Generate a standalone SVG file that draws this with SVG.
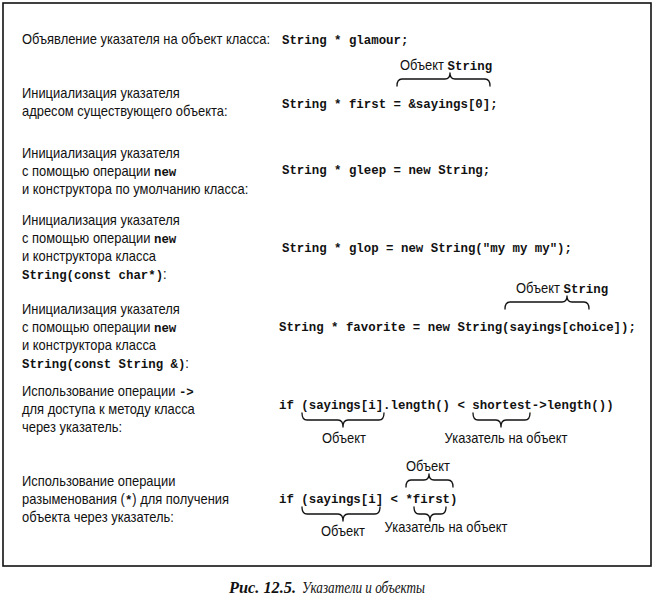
<svg xmlns="http://www.w3.org/2000/svg" width="654" height="602" viewBox="0 0 654 602">
  <style>
    .t { font-family: "Liberation Sans", Arial, sans-serif; font-size: 14.2px; fill: #111; }
    .c { font-family: "Liberation Mono", "Courier New", monospace; font-size: 12.4px; font-weight: bold; fill: #111; }
    .m { font-family: "Liberation Mono", "Courier New", monospace; font-weight: bold; font-size: 13.6px; }
    .lbl { font-family: "Liberation Sans", Arial, sans-serif; font-size: 14.2px; fill: #111; text-anchor: middle; }
    .brace { fill: none; stroke: #111; stroke-width: 1.3; stroke-linecap: round; stroke-linejoin: round; }
    .cap { font-family: "Liberation Serif", "Times New Roman", serif; font-size: 17px; font-style: italic; fill: #111; }
  </style>

  <!-- frame -->
  <rect x="3" y="3" width="648" height="563" fill="#fff" stroke="#111" stroke-width="1.6"/>

  <!-- declaration -->
  <g id="decl">
    <text class="t" transform="translate(22 44) scale(0.91 1)">Объявление указателя на объект класса:</text>
    <text class="c" x="282" y="44">String * glamour;</text>
  </g>

  <!-- pointer to an existing object -->
  <g id="init-address">
    <text class="t" transform="translate(22 98) scale(0.91 1)">Инициализация указателя</text>
    <text class="t" transform="translate(22 116) scale(0.91 1)">адресом существующего объекта:</text>
    <text class="c" x="282" y="108">String * first = &amp;sayings[0];</text>
    <text class="t" transform="translate(400 70) scale(0.91 1)">Объект <tspan class="m">String</tspan></text>
  </g>

  <!-- new with default constructor -->
  <g id="init-default">
    <text class="t" transform="translate(22 158) scale(0.91 1)">Инициализация указателя</text>
    <text class="t" transform="translate(22 176) scale(0.91 1)">с помощью операции <tspan class="m">new</tspan></text>
    <text class="t" transform="translate(22 194) scale(0.91 1)">и конструктора по умолчанию класса:</text>
    <text class="c" x="282" y="174">String * gleep = new String;</text>
  </g>

  <!-- new with String(const char*) -->
  <g id="init-charptr">
    <text class="t" transform="translate(22 225) scale(0.91 1)">Инициализация указателя</text>
    <text class="t" transform="translate(22 243) scale(0.91 1)">с помощью операции <tspan class="m">new</tspan></text>
    <text class="t" transform="translate(22 261) scale(0.91 1)">и конструктора класса</text>
    <text class="t" transform="translate(22 279) scale(0.91 1)"><tspan class="m">String(const char*)</tspan>:</text>
    <text class="c" x="282" y="252">String * glop = new String("my my my");</text>
  </g>

  <!-- new with copy constructor -->
  <g id="init-copy">
    <text class="t" transform="translate(22 314) scale(0.91 1)">Инициализация указателя</text>
    <text class="t" transform="translate(22 332) scale(0.91 1)">с помощью операции <tspan class="m">new</tspan></text>
    <text class="t" transform="translate(22 350) scale(0.91 1)">и конструктора класса</text>
    <text class="t" transform="translate(22 368) scale(0.91 1)"><tspan class="m">String(const String &amp;)</tspan>:</text>
    <text class="c" x="279" y="331">String * favorite = new String(sayings[choice]);</text>
    <text class="t" transform="translate(516 293) scale(0.91 1)">Объект <tspan class="m">String</tspan></text>
  </g>

  <!-- member access through pointer -->
  <g id="arrow-op">
    <text class="t" transform="translate(22 396) scale(0.91 1)">Использование операции <tspan class="m">-&gt;</tspan></text>
    <text class="t" transform="translate(22 414) scale(0.91 1)">для доступа к методу класса</text>
    <text class="t" transform="translate(22 432) scale(0.91 1)">через указатель:</text>
    <text class="c" x="279" y="409">if (sayings[i].length() &lt; shortest-&gt;length())</text>
    <text class="lbl" transform="translate(344 443) scale(0.91 1)">Объект</text>
    <text class="lbl" transform="translate(506 443) scale(0.91 1)">Указатель на объект</text>
  </g>

  <!-- dereference -->
  <g id="deref-op">
    <text class="t" transform="translate(22 486) scale(0.91 1)">Использование операции</text>
    <text class="t" transform="translate(22 504) scale(0.91 1)">разыменования (<tspan class="m">*</tspan>) для получения</text>
    <text class="t" transform="translate(22 522) scale(0.91 1)">объекта через указатель:</text>
    <text class="c" x="279" y="503">if (sayings[i] &lt; *first)</text>
    <text class="lbl" transform="translate(428 471) scale(0.91 1)">Объект</text>
    <text class="lbl" transform="translate(343 536) scale(0.91 1)">Объект</text>
    <text class="lbl" transform="translate(446 532) scale(0.91 1)">Указатель на объект</text>
  </g>

  <!-- braces -->
  <g id="connectors">
    <path class="brace" d="M397 86 Q397 79 402 79 L445 79 Q450 79 450 73 Q450 79 455 79 L485 79 Q490 79 490 86"/>
    <path class="brace" d="M505 309 Q505 302 510 302 L562 302 Q567 302 567 296 Q567 302 572 302 L584 302 Q589 302 589 309"/>
    <path class="brace" d="M302 413 Q302 420 307 420 L338 420 Q343 420 343 427 Q343 420 348 420 L379 420 Q384 420 384 413"/>
    <path class="brace" d="M473 413 Q473 420 478 420 L496 420 Q501 420 501 427 Q501 420 506 420 L525 420 Q530 420 530 413"/>
    <path class="brace" d="M406 487 Q406 480 411 480 L424 480 Q429 480 429 474 Q429 480 434 480 L448 480 Q453 480 453 487"/>
    <path class="brace" d="M302 507 Q302 514 307 514 L338 514 Q343 514 343 521 Q343 514 348 514 L375 514 Q380 514 380 507"/>
    <path class="brace" d="M414 507 Q414 514 419 514 L425 514 Q430 514 430 521 Q430 514 435 514 L441 514 Q446 514 446 507"/>
  </g>

  <!-- caption -->
  <g id="caption">
    <text class="cap" x="229" y="593" font-weight="bold" textLength="67" lengthAdjust="spacingAndGlyphs">Рис. 12.5.</text>
    <text class="cap" x="302" y="593" textLength="123" lengthAdjust="spacingAndGlyphs">Указатели и объекты</text>
  </g>
</svg>
